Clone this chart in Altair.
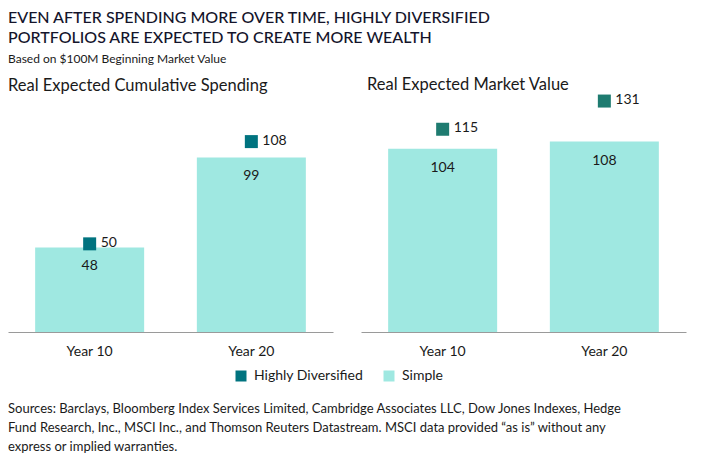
import altair as alt
import pandas as pd

years = ["Year 10", "Year 20"]
spend_simple = [48, 99]
spend_div = [50, 108]
mv_simple = [104, 108]
mv_div = [115, 131]

series_names = ["Highly Diversified", "Simple"]
panel_titles = ["Real Expected Cumulative Spending", "Real Expected Market Value"]
main_title = ["EVEN AFTER SPENDING MORE OVER TIME, HIGHLY DIVERSIFIED",
              "PORTFOLIOS ARE EXPECTED TO CREATE MORE WEALTH"]
subtitle = "Based on $100M Beginning Market Value"
foot_lines = [
    "Sources: Barclays, Bloomberg Index Services Limited, Cambridge Associates LLC, Dow Jones Indexes, Hedge",
    "Fund Research, Inc., MSCI Inc., and Thomson Reuters Datastream. MSCI data provided \u201cas is\u201d without any",
    "express or implied warranties.",
]

BAR = "#9FE8E1"
TEAL = "#00737F"
GREEN = "#1E7B70"
TXT = "#1a1a1a"
FONT = "Lato"

color_scale = alt.Scale(domain=series_names, range=[TEAL, BAR])
legend = alt.Legend(title=None, orient="none", direction="horizontal",
                    legendX=226, legendY=275, symbolType="square",
                    symbolSize=121, labelFont=FONT, labelFontSize=14,
                    labelColor=TXT, labelOffset=6, columnPadding=18,
                    padding=0, symbolStrokeWidth=0)


def panel(simple, div, title, marker_color, title_dx):
    df = pd.DataFrame({"year": years, "simple": simple, "div": div,
                       "series": [series_names[1]] * len(years)})
    base = alt.Chart(df)
    x = alt.X("year:N", title=None,
              scale=alt.Scale(paddingInner=0.33, paddingOuter=0.17),
              axis=alt.Axis(labelAngle=0, ticks=False, domainColor="#9a9a9a",
                            labelPadding=12, labelFontSize=14, labelColor=TXT,
                            labelFont=FONT, grid=False))
    yscale = alt.Scale(domain=[0, 135], nice=False)
    bars = base.mark_bar(size=109).encode(
        x=x,
        y=alt.Y("simple:Q", scale=yscale, axis=None),
        color=alt.Color("series:N", scale=color_scale, legend=legend),
    )
    bar_lbl = base.mark_text(baseline="middle", dy=19, font=FONT, fontSize=14, color=TXT).encode(
        x=x, y=alt.Y("simple:Q", scale=yscale), text="simple:Q")
    marks = base.mark_square(size=169, opacity=1, color=marker_color).encode(
        x=x, y=alt.Y("div:Q", scale=yscale))
    mk_lbl = base.mark_text(align="left", baseline="middle", dx=11, dy=-1, font=FONT,
                            fontSize=14, color=TXT).encode(
        x=x, y=alt.Y("div:Q", scale=yscale), text="div:Q")
    return alt.layer(bars, bar_lbl, marks, mk_lbl).properties(
        width=325, height=238,
        title=alt.TitleParams(title, anchor="start", dx=title_dx, offset=0, fontSize=16.5,
                              font=FONT, fontWeight="normal", color=TXT),
    )


left = panel(spend_simple, spend_div, panel_titles[0], TEAL, 0)
right = panel(mv_simple, mv_div, panel_titles[1], GREEN, 6)

foot_df = pd.DataFrame({"i": list(range(len(foot_lines))), "line": foot_lines})
foot = alt.Chart(foot_df).mark_text(align="left", baseline="middle", font=FONT,
                                    fontSize=13, color=TXT).encode(
    x=alt.value(0),
    y=alt.Y("i:O", axis=None, scale=alt.Scale(paddingInner=0, paddingOuter=0)),
    text="line:N",
).properties(width=680, height=57)

chart = alt.vconcat(
    alt.hconcat(left, right, spacing=28),
    foot,
    spacing=41,
).properties(
    title=alt.TitleParams(main_title, subtitle=subtitle, anchor="start", fontSize=16,
                          lineHeight=20, font=FONT, fontWeight=500, color="#14142b",
                          subtitleFont=FONT, subtitleFontSize=12, subtitleColor=TXT,
                          subtitlePadding=8, offset=12),
    padding={"left": 0, "top": 1, "right": 0, "bottom": 0},
).configure_view(stroke=None)

chart.save("out.html", embed_options={"renderer": "svg", "actions": False})
